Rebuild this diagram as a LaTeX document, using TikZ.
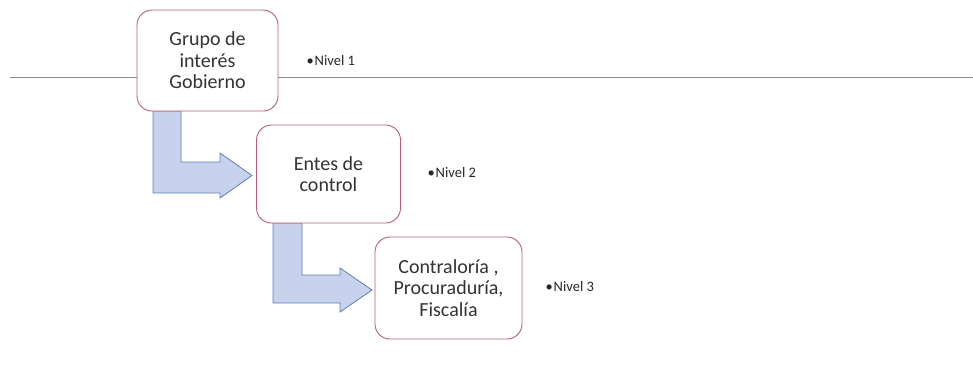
\documentclass[tikz,border=0pt]{standalone}
\usepackage{fontspec}
\setmainfont{Carlito}
\definecolor{boxline}{RGB}{192,90,120}
\definecolor{arrfill}{RGB}{200,210,236}
\definecolor{arrline}{RGB}{95,125,190}
\definecolor{rule}{RGB}{140,140,140}
\begin{document}
\begin{tikzpicture}[x=1pt,y=-1pt,
  box/.style={draw=boxline,line width=0.9pt,fill=white,rounded corners=15pt,align=center,
    font=\fontsize{20}{21.5}\selectfont,text=black!80,inner sep=0pt},
  lvl/.style={font=\fontsize{14.5}{16}\selectfont,text=black!85,anchor=west},
  bentarrow/.style={draw=arrline,line width=0.8pt,fill=arrfill,line join=miter}]
\useasboundingbox (0,0) rectangle (973,373);
\draw[rule,line width=0.7pt] (10,77) coordinate (l0) -- (973,77) coordinate (l1);
% arrows
\draw[bentarrow] (153,111) -- (181,111) -- (181,162) -- (220,162) -- (220,153) -- (252,175.5) -- (220,198) -- (220,193) -- (153,193) -- cycle;
\draw[bentarrow] (273,223) -- (302,223) -- (302,275) -- (340,275) -- (340,268) -- (372,290) -- (340,312) -- (340,303) -- (273,303) -- cycle;
% boxes
\node[box,minimum width=141pt,minimum height=101pt] (b1) at (207.5,60.5) {Grupo de\\interés\\Gobierno};
\node[box,minimum width=144pt,minimum height=98pt] (b2) at (328.5,174) {Entes de\\control};
\node[box,minimum width=147pt,minimum height=102pt] (b3) at (448.5,288) {Contraloría ,\\Procuraduría,\\Fiscalía};
% levels
\node[lvl] (n1) at (303,61) {•\kern1pt Nivel 1};
\node[lvl] (n2) at (424,173) {•\kern1pt Nivel 2};
\node[lvl] (n3) at (542,287) {•\kern1pt Nivel 3};
\end{tikzpicture}
\end{document}
